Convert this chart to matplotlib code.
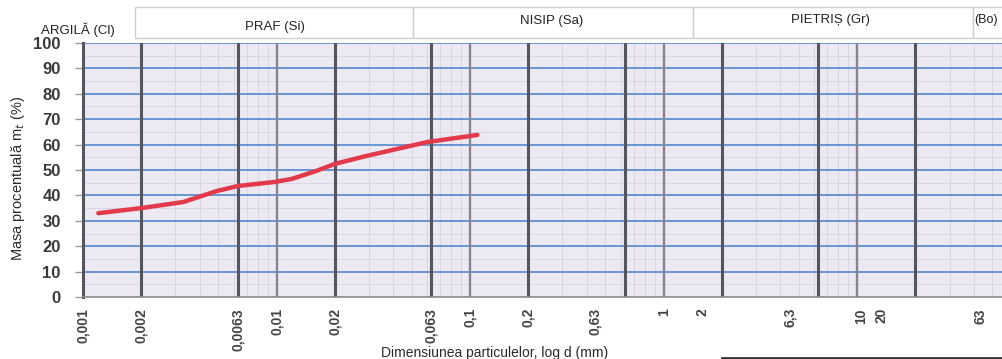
import numpy as np
import matplotlib

matplotlib.use("Agg")
import matplotlib.pyplot as plt
from matplotlib.patches import Rectangle
from matplotlib.lines import Line2D

plt.rcParams["font.family"] = ["Liberation Sans", "DejaVu Sans"]

# grading curve
diam_mm = [0.0012, 0.002, 0.0033, 0.0049, 0.0063, 0.0098, 0.012, 0.016, 0.02, 0.029, 0.06, 0.109]
passing = [33.0, 35.0, 37.4, 41.7, 43.7, 45.3, 46.5, 49.6, 52.4, 55.5, 61.0, 63.8]

# sieve lines of the form (log grid)
grid_main = [0.002, 0.0063, 0.02, 0.063, 0.2, 0.63, 2, 6.3, 20]
grid_decade = [0.01, 0.1, 1, 10]

# tick texts and where the printed form puts them (slightly off the lines on the right)
tick_text = ["0,001", "0,002", "0,0063", "0,01", "0,02", "0,063", "0,1", "0,2",
             "0,63", "1", "2", "6,3", "10", "20", "63"]
tick_at = [0.001, 0.002, 0.0063, 0.01, 0.02, 0.063, 0.1, 0.2,
           0.443, 1.0, 1.58, 4.5, 10.5, 13.4, 43.3]

y_ticks = list(range(0, 101, 10))

# header bands: (label, left px, right px, text x px, text y px)
bands = [("PRAF (Si)", 135, 413, 275, 27),
         ("NISIP (Sa)", 413, 693, 552, 21),
         ("PIETRIȘ (Gr)", 693, 973, 830, 20),
         ("(Bo)", 973, 1010, 974, 20)]

W, H = 1002, 359


def fx(px):
    return px / W


def fy(py):
    return 1 - py / H


fig = plt.figure(figsize=(W / 100, H / 100), dpi=100)
fig.patch.set_facecolor("white")
ax = fig.add_axes([fx(83), fy(297), 1 - fx(83), fy(43) - fy(297)])
ax.set_facecolor("#ece9f2")

ax.set_xscale("log")
ax.set_xlim(0.001, 56)
ax.set_ylim(0, 100)

# faint texture of the printed form
for dec in [0.001, 0.01, 0.1, 1, 10]:
    for m in range(2, 10):
        ax.axvline(dec * m, color="#d6cfe0", lw=0.6, zorder=0)
for yv in np.arange(5, 100, 10):
    ax.axhline(yv, color="#d8d3e6", lw=0.6, zorder=0)

for yv in y_ticks[1:]:
    ax.axhline(yv, color="#5d90d2", lw=1.3, zorder=1)
for xv in grid_decade:
    ax.axvline(xv, color="#85858f", lw=1.7, zorder=2)
for xv in grid_main:
    ax.axvline(xv, color="#55555f", lw=2.2, zorder=2)

ax.plot(diam_mm, passing, color="#e23a4a", lw=3.2, solid_capstyle="round",
        solid_joinstyle="round", zorder=5)

for side in ["top", "right"]:
    ax.spines[side].set_visible(False)
ax.spines["left"].set_color("#55555f")
ax.spines["left"].set_linewidth(2.2)
ax.spines["bottom"].set_color("#8a8a90")
ax.spines["bottom"].set_linewidth(1.2)

ax.set_yticks(y_ticks)
ax.set_yticklabels([str(v) for v in y_ticks], fontsize=12, fontweight="bold", color="#3a3a3a")
ax.tick_params(axis="y", length=6, width=1, color="#999999", pad=10)

ax.xaxis.set_minor_locator(matplotlib.ticker.NullLocator())
ax.set_xticks(tick_at)
ax.set_xticklabels(tick_text, rotation=90, fontsize=10, fontweight="bold", color="#444444")
ax.tick_params(axis="x", length=0, pad=8)

# header bands above the plot
for label, x0, x1, tx, ty in bands:
    fig.add_artist(Rectangle((fx(x0), fy(38)), fx(x1) - fx(x0), fy(7) - fy(38),
                             transform=fig.transFigure, facecolor="white",
                             edgecolor="#cfcfcf", lw=1.0))
    fig.text(fx(tx), fy(ty), label, ha="left" if label == "(Bo)" else "center",
             va="center", fontsize=9 if label == "(Bo)" else 9.5, color="#222222")
fig.text(fx(78), fy(30), "ARGILĂ (Cl)", ha="center", va="center", fontsize=9.5, color="#222222")

fig.text(fx(18), fy(178), "Masa procentuală m$_t$ (%)", rotation=90, ha="center",
         va="center", fontsize=10.5, color="#2a2a2a")
fig.text(fx(495), fy(346), "Dimensiunea particulelor, log d (mm)", ha="center",
         va="top", fontsize=10, color="#2a2a2a")

# edge of the next table in the scan
fig.add_artist(Line2D([fx(722), 1], [fy(358), fy(358)], transform=fig.transFigure,
                      color="#333333", lw=2))

fig.savefig("out.png", dpi=100)
